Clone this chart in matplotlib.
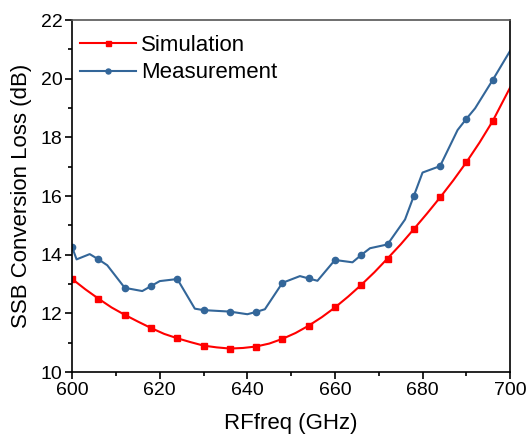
import matplotlib
matplotlib.use("Agg")
import matplotlib.pyplot as plt
from matplotlib.ticker import MultipleLocator

plt.rcParams['font.family'] = ['Liberation Sans', 'DejaVu Sans']

# Simulation (markers every 6 GHz)
sim_freq = [600, 603, 606, 609, 612, 615, 618, 621, 624, 627, 630, 633, 636, 639, 642, 645,
            648, 651, 654, 657, 660, 663, 666, 669, 672, 675, 678, 681, 684, 687, 690, 693,
            696, 700]
sim_loss = [13.17, 12.82, 12.50, 12.20, 11.95, 11.72, 11.50, 11.30, 11.15, 11.02, 10.90, 10.84,
            10.80, 10.82, 10.87, 10.97, 11.13, 11.33, 11.58, 11.87, 12.20, 12.57, 12.97, 13.40,
            13.87, 14.35, 14.87, 15.40, 15.95, 16.53, 17.15, 17.82, 18.55, 19.70]

# Measurement
meas_freq = [600, 601, 604, 606, 608, 612, 616, 618, 620, 624, 628, 630, 636, 640, 642, 644,
             648, 652, 654, 656, 660, 664, 666, 668, 672, 676, 678, 680, 684, 688, 690, 692,
             696, 700]
meas_loss = [14.25, 13.84, 14.02, 13.84, 13.64, 12.87, 12.76, 12.93, 13.10, 13.17, 12.16, 12.11,
             12.06, 11.97, 12.05, 12.14, 13.04, 13.27, 13.19, 13.11, 13.82, 13.74, 13.99, 14.22,
             14.35, 15.20, 16.00, 16.80, 17.02, 18.25, 18.63, 18.99, 19.95, 20.95]

marked = [600, 606, 612, 618, 624, 630, 636, 642, 648, 654, 660, 666, 672, 678, 684, 690, 696]
sim_marks = [i for i, f in enumerate(sim_freq) if f in marked]
meas_marks = [i for i, f in enumerate(meas_freq) if f in marked]

fig = plt.figure(figsize=(5.27, 4.45), dpi=100)
ax = fig.add_axes([0.137, 0.164, 0.831, 0.791])

ax.plot(sim_freq, sim_loss, color='#ff0000', lw=1.5, marker='s', markersize=4.5,
        markevery=sim_marks, label='Simulation')
ax.plot(meas_freq, meas_loss, color='#336699', lw=1.5, marker='o', markersize=4.5,
        markevery=meas_marks, label='Measurement')

ax.set_xlim(600, 700)
ax.set_ylim(10, 22)
ax.xaxis.set_major_locator(MultipleLocator(20))
ax.xaxis.set_minor_locator(MultipleLocator(10))
ax.yaxis.set_major_locator(MultipleLocator(2))
ax.yaxis.set_minor_locator(MultipleLocator(1))
ax.tick_params(which='major', direction='out', length=5, width=1.2, labelsize=14, pad=2)
ax.tick_params(which='minor', direction='out', length=3, width=1.2)
ax.tick_params(top=False, right=False)
for s in ax.spines.values():
    s.set_linewidth(1.2)
ax.spines['top'].set_color('#555555')

ax.set_xlabel('RFfreq (GHz)', fontsize=16, labelpad=10)
ax.set_ylabel('SSB Conversion Loss (dB)', fontsize=16, labelpad=6)

ax.legend(loc='upper left', bbox_to_anchor=(0.003, 0.977), frameon=False, fontsize=16,
          handlelength=2.5, handletextpad=0.25, borderaxespad=0, borderpad=0.3,
          labelspacing=0.3, markerscale=0.8)

fig.savefig('out.png', dpi=100)
